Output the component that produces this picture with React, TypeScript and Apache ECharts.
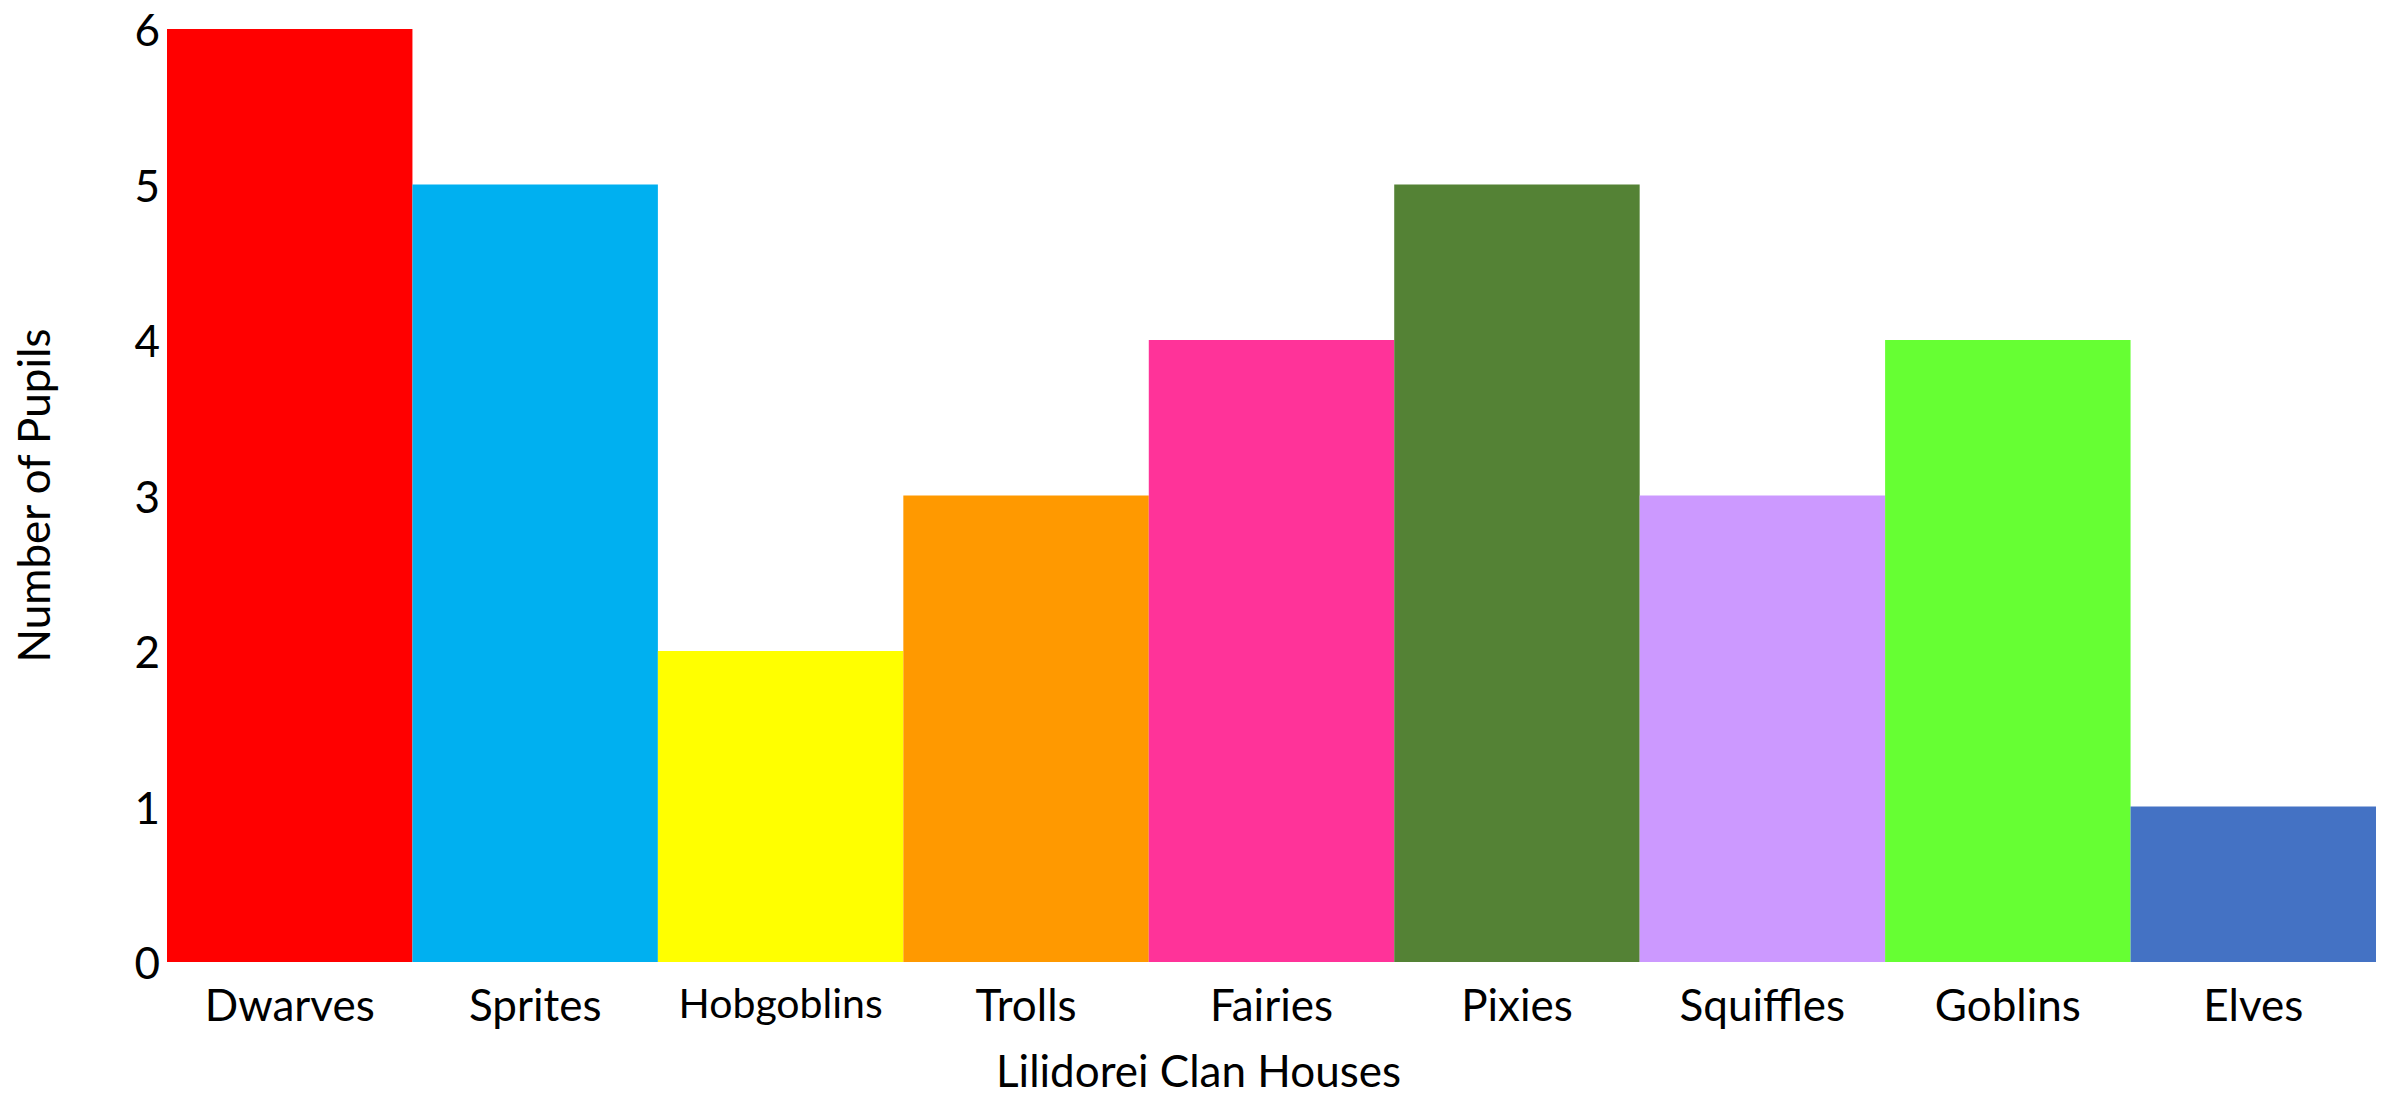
import React, { useEffect, useRef } from "react";
import * as echarts from "echarts";

const categories = ["Dwarves", "Sprites", "Hobgoblins", "Trolls", "Fairies", "Pixies", "Squiffles", "Goblins", "Elves"];
const pupils = [6, 5, 2, 3, 4, 5, 3, 4, 1];
const barColors = ["#FF0000", "#00B0F0", "#FFFF00", "#FF9900", "#FF3399", "#548235", "#CC99FF", "#66FF33", "#4472C4"];
const xTitle = "Lilidorei Clan Houses";
const yTitle = "Number of Pupils";
const smallLabel = "Hobgoblins";

const FONT = "Lato, 'Open Sans', sans-serif";

export default function App() {
  const ref = useRef<HTMLDivElement>(null);
  useEffect(() => {
    if (!ref.current) return;
    const chart = echarts.init(ref.current, undefined, { renderer: "svg" });
    chart.setOption({
      animation: false,
      backgroundColor: "#ffffff",
      grid: { left: 167, right: 6, top: 29, bottom: 138, containLabel: false, outerBoundsMode: "none" },
      xAxis: {
        type: "category",
        data: categories,
        axisLine: { show: false },
        axisTick: { show: false },
        axisLabel: {
          color: "#000",
          fontSize: 44,
          fontFamily: FONT,
          margin: 20,
          interval: 0,
          formatter: (v: string) => (v === smallLabel ? "{s|" + v + "}" : v),
          rich: { s: { fontSize: 41, fontFamily: FONT, color: "#000", padding: [0, 0, 6, 0] } },
        },
        name: xTitle,
        nameLocation: "middle",
        nameGap: 86,
        nameTextStyle: { color: "#000", fontSize: 44, fontFamily: FONT, padding: [0, 146, 0, 0] },
      },
      yAxis: {
        type: "value",
        min: 0,
        max: 6,
        interval: 1,
        splitLine: { show: false },
        axisLine: { show: false },
        axisTick: { show: false },
        axisLabel: { color: "#000", fontSize: 44, fontFamily: FONT, margin: 7 },
        name: yTitle,
        nameLocation: "middle",
        nameGap: 112,
        nameTextStyle: { color: "#000", fontSize: 44, fontFamily: FONT },
      },
      series: [
        {
          type: "bar",
          barCategoryGap: "0%",
          data: pupils.map((v, i) => ({ value: v, itemStyle: { color: barColors[i] } })),
        },
      ],
    });
    return () => chart.dispose();
  }, []);
  return <div ref={ref} style={{ position: "fixed", left: 0, top: 0, width: 2382, height: 1100 }} />;
}
